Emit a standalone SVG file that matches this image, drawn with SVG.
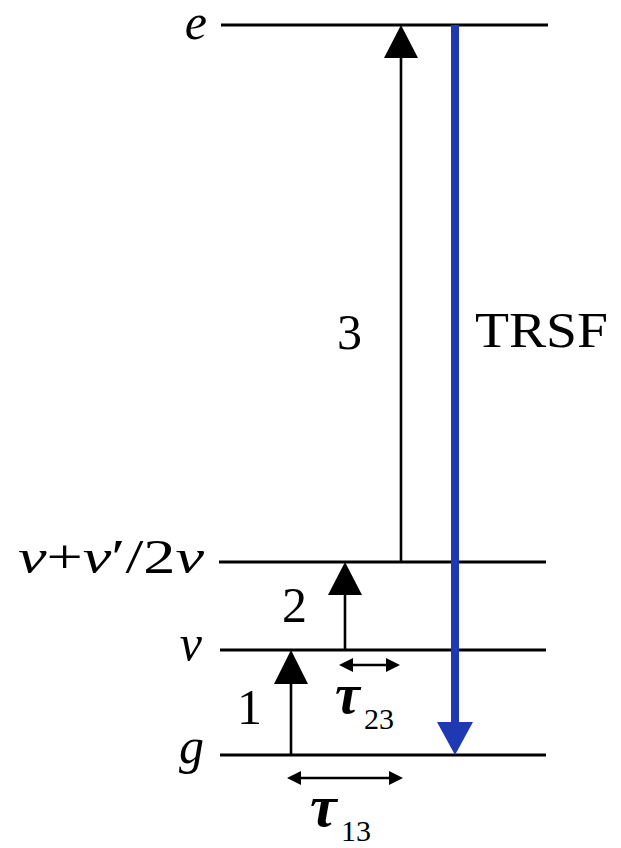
<svg xmlns="http://www.w3.org/2000/svg" width="621" height="848" viewBox="0 0 621 848">
<style>
.lvl{stroke:#000;stroke-width:3;fill:none}
.ln{stroke:#000;stroke-width:2.6;fill:none}
.hd{fill:#000;stroke:none}
.blue{stroke:#1f39b4;stroke-width:8;fill:none}
.bhd{fill:#1f39b4;stroke:none}
.t{font-family:"Liberation Serif","DejaVu Serif",serif;fill:#000}
.m{font-style:italic}
</style>
<rect width="621" height="848" fill="#fff"/>
<g id="level-e">
<line class="lvl" x1="221" y1="25" x2="548" y2="25"/>
<text class="t m" x="207" y="39" font-size="50" text-anchor="end">e</text>
</g>
<g id="level-vv">
<line class="lvl" x1="219" y1="562" x2="546" y2="562"/>
<text class="t" x="18" y="573" font-size="48" textLength="186" lengthAdjust="spacingAndGlyphs"><tspan font-style="italic">v</tspan>+<tspan font-style="italic">v</tspan>′/2<tspan font-style="italic">v</tspan></text>
</g>
<g id="level-v">
<line class="lvl" x1="220" y1="650" x2="546" y2="650"/>
<text class="t m" x="202" y="660" font-size="50" text-anchor="end">v</text>
</g>
<g id="level-g">
<line class="lvl" x1="220" y1="755" x2="546" y2="755"/>
<text class="t m" x="204" y="763" font-size="50" text-anchor="end">g</text>
</g>
<g id="connectors">
<line class="ln" x1="291" y1="755" x2="291" y2="680"/>
<polygon class="hd" points="291,650 274,684 308,684"/>
<line class="ln" x1="345" y1="650" x2="345" y2="590"/>
<polygon class="hd" points="345,562 328,595 362,595"/>
<line class="ln" x1="401" y1="562" x2="401" y2="55"/>
<polygon class="hd" points="401,25 384,58 418,58"/>
<line class="blue" x1="455" y1="25" x2="455" y2="725"/>
<polygon class="bhd" points="455,755 437,722 473,722"/>
<line class="ln" x1="350" y1="665" x2="390" y2="665"/>
<polygon class="hd" points="339,665 353,658 353,672"/>
<polygon class="hd" points="400,665 386,658 386,672"/>
<line class="ln" x1="298" y1="778" x2="392" y2="778"/>
<polygon class="hd" points="287,778 301,771 301,785"/>
<polygon class="hd" points="403,778 389,771 389,785"/>
</g>
<g id="labels">
<text class="t" x="237" y="724" font-size="50">1</text>
<text class="t" x="282" y="622" font-size="50">2</text>
<text class="t" x="337" y="349" font-size="50">3</text>
<text class="t" x="475" y="347" font-size="50" textLength="133" lengthAdjust="spacingAndGlyphs">TRSF</text>
<text class="t m" x="335" y="713" font-size="56" font-weight="bold">τ</text>
<text class="t" x="364" y="729" font-size="30">23</text>
<text class="t m" x="310" y="826" font-size="60" font-weight="bold">τ</text>
<text class="t" x="341" y="841" font-size="30">13</text>
</g>
</svg>
